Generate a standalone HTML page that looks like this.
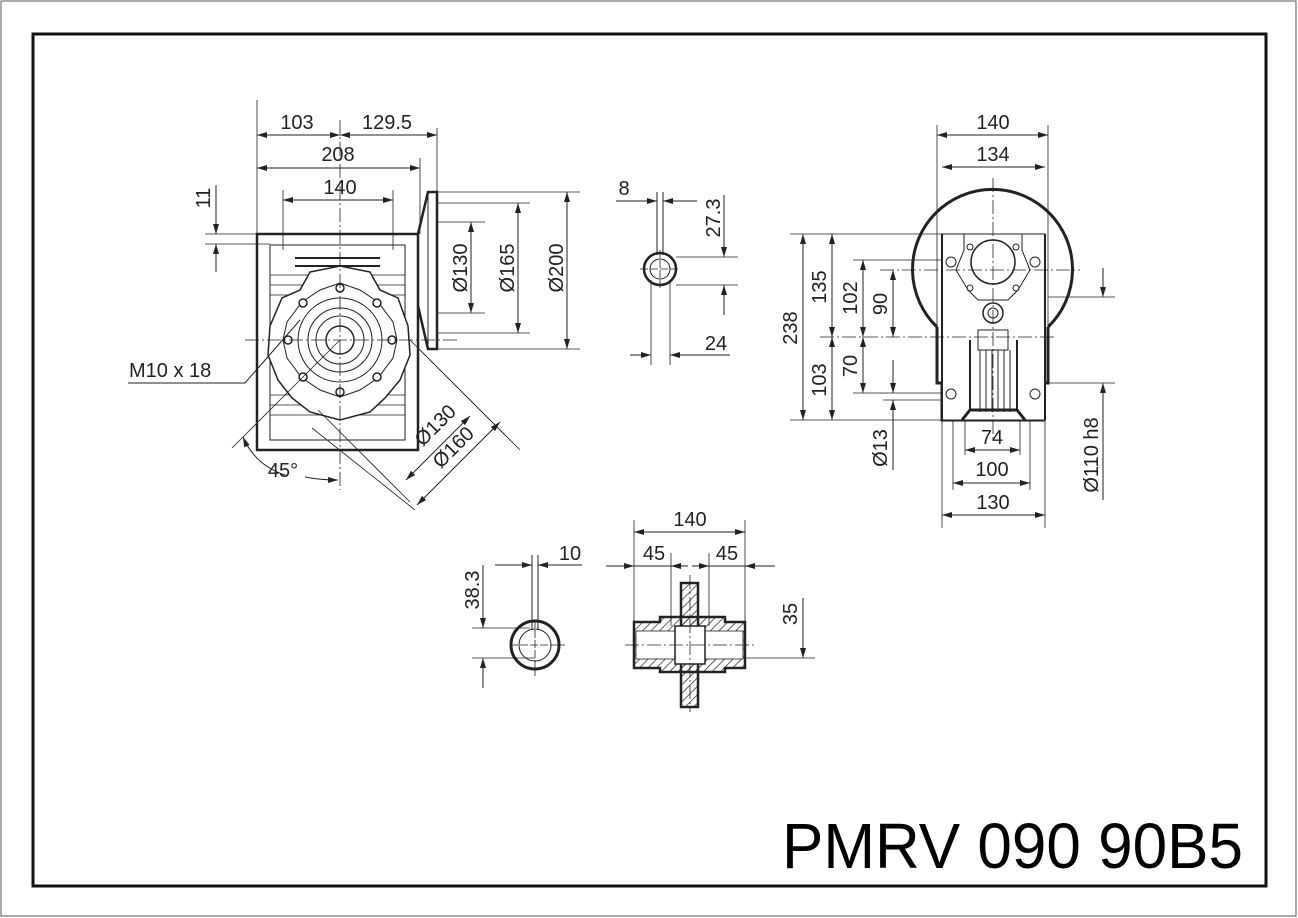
<!DOCTYPE html>
<html><head><meta charset="utf-8"><style>
html,body{margin:0;padding:0;background:#fff;}
svg{display:block;}
text{font-family:"Liberation Sans",sans-serif;fill:#222;}
</style></head><body>
<svg width="1298" height="918" viewBox="0 0 1298 918" xmlns="http://www.w3.org/2000/svg">
<defs>
<marker id="a" viewBox="0 0 10 6" refX="10" refY="3" markerWidth="10" markerHeight="6" orient="auto-start-reverse" markerUnits="userSpaceOnUse"><path d="M0,0L10,3L0,6z" fill="#222"/></marker>
<pattern id="h" width="6" height="6" patternUnits="userSpaceOnUse" patternTransform="rotate(45)"><line x1="0" y1="0" x2="0" y2="6" stroke="#333" stroke-width="1.5"/></pattern>
</defs>
<rect x="1" y="1" width="1295" height="915" fill="none" stroke="#555" stroke-width="1"/>
<rect x="33" y="34" width="1233" height="852" fill="none" stroke="#111" stroke-width="3"/>

<g stroke="#222" fill="none" stroke-width="1">
<!-- FRONT VIEW -->
<rect x="257" y="234" width="161" height="216" stroke-width="2.5"/>
<path d="M418,234 L428,192 L437,192 L437,349 L428,349 L418,306" stroke-width="2.5"/>
<line x1="428" y1="192" x2="428" y2="349"/>
<rect x="270" y="245" width="135" height="195"/>
<line x1="295" y1="258" x2="380" y2="258" stroke-width="2"/>
<line x1="295" y1="266" x2="380" y2="266" stroke-width="2"/>
<g stroke-width="0.8">
<line x1="270" y1="275" x2="405" y2="275"/><line x1="270" y1="285" x2="405" y2="285"/><line x1="270" y1="295" x2="405" y2="295"/>
<line x1="270" y1="395" x2="405" y2="395"/><line x1="270" y1="405" x2="405" y2="405"/><line x1="270" y1="415" x2="405" y2="415"/>
</g>
<path d="M340,266 L370,272 L380,290 L398,298 L408,326 L410,355 L400,380 L385,398 L370,412 L340,420 L310,412 L292,398 L278,380 L268,355 L270,326 L282,298 L300,290 L310,272 Z" fill="#fff" stroke-width="1.5"/>
<path d="M340,283 L360,290 L378,302 L393,322 L397,340 L393,358 L378,378 L360,390 L340,397 L320,390 L302,378 L287,358 L283,340 L287,322 L302,302 L320,290 Z"/>
<circle cx="340" cy="340" r="42"/><circle cx="340" cy="340" r="32"/><circle cx="340" cy="340" r="24"/><circle cx="340" cy="340" r="14" stroke-width="1.5"/>
<g fill="#fff" stroke-width="1.5">
<circle cx="340" cy="288" r="4"/><circle cx="340" cy="392" r="4"/><circle cx="288" cy="340" r="4"/><circle cx="392" cy="340" r="4"/>
<circle cx="303" cy="303" r="4"/><circle cx="377" cy="303" r="4"/><circle cx="303" cy="377" r="4"/><circle cx="377" cy="377" r="4"/>
</g>
<g stroke-dasharray="14,3,2,3" stroke-width="0.8">
<line x1="340" y1="120" x2="340" y2="490"/><line x1="245" y1="340" x2="460" y2="340"/>
</g>
<!-- front dims -->
<line x1="257" y1="100" x2="257" y2="234" stroke-width="0.8"/>
<line x1="437" y1="128" x2="437" y2="192" stroke-width="0.8"/>
<line x1="420" y1="158" x2="420" y2="234" stroke-width="0.8"/>
<line x1="283" y1="190" x2="283" y2="250" stroke-width="0.8"/><line x1="393" y1="190" x2="393" y2="250" stroke-width="0.8"/>
<line x1="257" y1="135" x2="340" y2="135" marker-start="url(#a)" marker-end="url(#a)"/>
<line x1="340" y1="135" x2="437" y2="135" marker-start="url(#a)" marker-end="url(#a)"/>
<line x1="257" y1="168" x2="420" y2="168" marker-start="url(#a)" marker-end="url(#a)"/>
<line x1="283" y1="200" x2="393" y2="200" marker-start="url(#a)" marker-end="url(#a)"/>
<line x1="205" y1="234" x2="257" y2="234" stroke-width="0.8"/><line x1="205" y1="244" x2="270" y2="244" stroke-width="0.8"/>
<line x1="216" y1="185" x2="216" y2="234" marker-end="url(#a)"/><line x1="216" y1="272" x2="216" y2="244" marker-end="url(#a)"/>
<line x1="437" y1="192" x2="580" y2="192" stroke-width="0.8"/><line x1="437" y1="349" x2="580" y2="349" stroke-width="0.8"/>
<line x1="437" y1="203" x2="530" y2="203" stroke-width="0.8"/><line x1="437" y1="333" x2="530" y2="333" stroke-width="0.8"/>
<line x1="437" y1="222" x2="485" y2="222" stroke-width="0.8"/><line x1="437" y1="313" x2="485" y2="313" stroke-width="0.8"/>
<line x1="471" y1="222" x2="471" y2="313" marker-start="url(#a)" marker-end="url(#a)"/>
<line x1="518" y1="203" x2="518" y2="333" marker-start="url(#a)" marker-end="url(#a)"/>
<line x1="567" y1="192" x2="567" y2="349" marker-start="url(#a)" marker-end="url(#a)"/>
<!-- diagonal dims -->
<line x1="410" y1="340" x2="505" y2="435" stroke-width="0.8"/>
<line x1="420" y1="350" x2="520" y2="450" stroke-width="0.8"/>
<line x1="318" y1="410" x2="410" y2="502" stroke-width="0.8"/>
<line x1="312" y1="428" x2="415" y2="510" stroke-width="0.8"/>
<line x1="406" y1="480" x2="470" y2="416" marker-start="url(#a)" marker-end="url(#a)"/>
<line x1="417" y1="505" x2="500" y2="422" marker-start="url(#a)" marker-end="url(#a)"/>
<line x1="340" y1="340" x2="232" y2="448" stroke-width="0.8"/>
<path d="M243,437 Q255,465 285,475" marker-start="url(#a)"/>
<path d="M305,477 Q320,480 338,480" marker-end="url(#a)"/>
<path d="M128,383 L245,383 L300,320"/>

<!-- SMALL SHAFT TOP -->
<circle cx="660" cy="269" r="16" stroke-width="2.5"/><circle cx="660" cy="269" r="10"/>
<line x1="657" y1="192" x2="657" y2="255"/><line x1="663" y1="192" x2="663" y2="255"/>
<line x1="616" y1="201" x2="657" y2="201" marker-end="url(#a)"/><line x1="697" y1="201" x2="663" y2="201" marker-end="url(#a)"/>
<line x1="640" y1="269" x2="680" y2="269" stroke-dasharray="8,2" stroke-width="0.8"/>
<line x1="660" y1="250" x2="660" y2="290" stroke-dasharray="8,2" stroke-width="0.8"/>
<line x1="676" y1="257" x2="738" y2="257" stroke-width="0.8"/><line x1="676" y1="285" x2="738" y2="285" stroke-width="0.8"/>
<line x1="724" y1="195" x2="724" y2="257" marker-end="url(#a)"/><line x1="724" y1="315" x2="724" y2="285" marker-end="url(#a)"/>
<line x1="651" y1="280" x2="651" y2="365" stroke-width="0.8"/><line x1="670" y1="280" x2="670" y2="365" stroke-width="0.8"/>
<line x1="630" y1="355" x2="651" y2="355" marker-end="url(#a)"/><line x1="730" y1="355" x2="670" y2="355" marker-end="url(#a)"/>

<!-- RIGHT VIEW -->
<path d="M937,327 A80,80 0 1 1 1048,327" stroke-width="3"/>
<path d="M937,327 L937,383 L942,383 L942,420 L1044,420 L1044,383 L1048,383 L1048,327" stroke-width="3"/>
<rect x="942" y="234" width="103" height="186" fill="#fff"/>
<line x1="942" y1="234" x2="942" y2="420" stroke-width="2"/><line x1="1045" y1="234" x2="1045" y2="420" stroke-width="2"/>
<path d="M964,234 L1022,234 L1022,250 L1030,270 L1018,290 L1008,300 L978,300 L968,290 L956,270 L964,250 Z"/>
<circle cx="993" cy="262" r="22" stroke-width="1.5"/>
<circle cx="951" cy="262" r="5"/><circle cx="1035" cy="262" r="5"/>
<circle cx="970" cy="247" r="3"/><circle cx="1016" cy="247" r="3"/><circle cx="970" cy="288" r="3"/><circle cx="1016" cy="288" r="3"/>
<circle cx="993" cy="313" r="10" stroke-width="1.5"/><circle cx="993" cy="313" r="5"/>
<rect x="978" y="330" width="30" height="20"/>
<line x1="970" y1="340" x2="970" y2="410" stroke-width="2"/><line x1="1017" y1="340" x2="1017" y2="410" stroke-width="2"/>
<g stroke-width="1"><line x1="980" y1="350" x2="980" y2="412"/><line x1="986" y1="350" x2="986" y2="412"/><line x1="992" y1="350" x2="992" y2="412"/><line x1="998" y1="350" x2="998" y2="412"/><line x1="1004" y1="350" x2="1004" y2="412"/><line x1="1010" y1="350" x2="1010" y2="412"/></g>
<path d="M962,420 L970,410 L1017,410 L1025,420" stroke-width="3"/>
<circle cx="951" cy="394" r="5"/><circle cx="1035" cy="394" r="5"/>
<g stroke-dasharray="14,3,2,3" stroke-width="0.8">
<line x1="993" y1="178" x2="993" y2="440"/><line x1="880" y1="270" x2="1080" y2="270"/><line x1="820" y1="337" x2="1055" y2="337"/>
</g>
<line x1="937" y1="125" x2="937" y2="327" stroke-width="0.8"/><line x1="1048" y1="125" x2="1048" y2="327" stroke-width="0.8"/>
<line x1="937" y1="135" x2="1048" y2="135" marker-start="url(#a)" marker-end="url(#a)"/>
<line x1="942" y1="167" x2="1045" y2="167" marker-start="url(#a)" marker-end="url(#a)"/>
<line x1="942" y1="420" x2="942" y2="528" stroke-width="0.8"/><line x1="1045" y1="420" x2="1045" y2="528" stroke-width="0.8"/>
<line x1="953" y1="420" x2="953" y2="490" stroke-width="0.8"/><line x1="1030" y1="420" x2="1030" y2="490" stroke-width="0.8"/>
<line x1="965" y1="420" x2="965" y2="455" stroke-width="0.8"/><line x1="1020" y1="420" x2="1020" y2="455" stroke-width="0.8"/>
<line x1="965" y1="450" x2="1020" y2="450" marker-start="url(#a)" marker-end="url(#a)"/>
<line x1="953" y1="483" x2="1030" y2="483" marker-start="url(#a)" marker-end="url(#a)"/>
<line x1="942" y1="515" x2="1045" y2="515" marker-start="url(#a)" marker-end="url(#a)"/>
<line x1="790" y1="234" x2="942" y2="234" stroke-width="0.8"/><line x1="790" y1="420" x2="942" y2="420" stroke-width="0.8"/>
<line x1="853" y1="260" x2="942" y2="260" stroke-width="0.8"/><line x1="853" y1="393" x2="942" y2="393" stroke-width="0.8"/>
<line x1="883" y1="400" x2="942" y2="400" stroke-width="0.8"/>
<line x1="803" y1="234" x2="803" y2="420" marker-start="url(#a)" marker-end="url(#a)"/>
<line x1="832" y1="234" x2="832" y2="337" marker-start="url(#a)" marker-end="url(#a)"/>
<line x1="832" y1="337" x2="832" y2="420" marker-start="url(#a)" marker-end="url(#a)"/>
<line x1="863" y1="260" x2="863" y2="337" marker-start="url(#a)" marker-end="url(#a)"/>
<line x1="863" y1="337" x2="863" y2="393" marker-start="url(#a)" marker-end="url(#a)"/>
<line x1="893" y1="270" x2="893" y2="337" marker-start="url(#a)" marker-end="url(#a)"/>
<line x1="893" y1="360" x2="893" y2="393" marker-end="url(#a)"/><line x1="893" y1="470" x2="893" y2="400" marker-end="url(#a)"/>
<line x1="1048" y1="297" x2="1115" y2="297" stroke-width="0.8"/><line x1="1048" y1="383" x2="1115" y2="383" stroke-width="0.8"/>
<line x1="1103" y1="268" x2="1103" y2="297" marker-end="url(#a)"/><line x1="1103" y1="500" x2="1103" y2="383" marker-end="url(#a)"/>

<!-- BOTTOM LEFT SHAFT -->
<circle cx="535" cy="645" r="24" stroke-width="3"/><circle cx="535" cy="645" r="16"/>
<line x1="532" y1="555" x2="532" y2="630"/><line x1="538" y1="555" x2="538" y2="630"/>
<line x1="495" y1="565" x2="532" y2="565" marker-end="url(#a)"/><line x1="582" y1="565" x2="538" y2="565" marker-end="url(#a)"/>
<line x1="510" y1="645" x2="565" y2="645" stroke-dasharray="8,2" stroke-width="0.8"/>
<line x1="535" y1="620" x2="535" y2="676" stroke-dasharray="8,2" stroke-width="0.8"/>
<line x1="472" y1="628" x2="530" y2="628" stroke-width="0.8"/><line x1="472" y1="658" x2="535" y2="658" stroke-width="0.8"/>
<line x1="483" y1="565" x2="483" y2="628" marker-end="url(#a)"/><line x1="483" y1="688" x2="483" y2="658" marker-end="url(#a)"/>

<!-- HOLLOW SHAFT -->
<rect x="681" y="583" width="17" height="124" fill="url(#h)" stroke-width="2.5"/>
<path d="M634,622 L660,622 L660,617 L725,617 L725,622 L745,622 L745,668 L725,668 L725,672 L660,672 L660,668 L634,668 Z" fill="url(#h)" stroke-width="2.5"/>
<rect x="636" y="631" width="107" height="28" fill="#fff" stroke-width="0.8"/>
<rect x="675" y="626" width="30" height="38" fill="#fff" stroke-width="1.5"/>
<line x1="625" y1="645" x2="755" y2="645" stroke-dasharray="14,3,2,3" stroke-width="0.8"/>
<line x1="690" y1="575" x2="690" y2="712" stroke-dasharray="14,3,2,3" stroke-width="0.8"/>
<line x1="634" y1="520" x2="634" y2="622" stroke-width="0.8"/><line x1="745" y1="520" x2="745" y2="622" stroke-width="0.8"/>
<line x1="671" y1="553" x2="671" y2="626" stroke-width="0.8"/><line x1="709" y1="553" x2="709" y2="626" stroke-width="0.8"/>
<line x1="634" y1="532" x2="745" y2="532" marker-start="url(#a)" marker-end="url(#a)"/>
<line x1="606" y1="566" x2="634" y2="566" marker-end="url(#a)"/>
<line x1="634" y1="566" x2="671" y2="566"/>
<line x1="671" y1="566" x2="688" y2="566" marker-start="url(#a)"/>
<line x1="692" y1="566" x2="709" y2="566" marker-end="url(#a)"/>
<line x1="709" y1="566" x2="745" y2="566"/>
<line x1="775" y1="566" x2="745" y2="566" marker-end="url(#a)"/>
<line x1="745" y1="658" x2="815" y2="658" stroke-width="0.8"/>
<line x1="803" y1="598" x2="803" y2="658" marker-end="url(#a)"/>
</g>

<g font-size="20">
<text x="297" y="129" text-anchor="middle">103</text>
<text x="387" y="129" text-anchor="middle">129.5</text>
<text x="338" y="161" text-anchor="middle">208</text>
<text x="340" y="194" text-anchor="middle">140</text>
<text transform="translate(210,198) rotate(-90)" text-anchor="middle">11</text>
<text transform="translate(467,268) rotate(-90)" text-anchor="middle">Ø130</text>
<text transform="translate(514,268) rotate(-90)" text-anchor="middle">Ø165</text>
<text transform="translate(563,268) rotate(-90)" text-anchor="middle">Ø200</text>
<text transform="translate(440,430) rotate(-45)" text-anchor="middle">Ø130</text>
<text transform="translate(458,452) rotate(-45)" text-anchor="middle">Ø160</text>
<text x="129" y="377">M10 x 18</text>
<text x="283" y="477" text-anchor="middle">45°</text>
<text x="624" y="195" text-anchor="middle">8</text>
<text transform="translate(720,218) rotate(-90)" text-anchor="middle">27.3</text>
<text x="716" y="350" text-anchor="middle">24</text>
<text x="993" y="129" text-anchor="middle">140</text>
<text x="993" y="161" text-anchor="middle">134</text>
<text transform="translate(797,328) rotate(-90)" text-anchor="middle">238</text>
<text transform="translate(826,287) rotate(-90)" text-anchor="middle">135</text>
<text transform="translate(826,380) rotate(-90)" text-anchor="middle">103</text>
<text transform="translate(857,298) rotate(-90)" text-anchor="middle">102</text>
<text transform="translate(857,366) rotate(-90)" text-anchor="middle">70</text>
<text transform="translate(887,304) rotate(-90)" text-anchor="middle">90</text>
<text transform="translate(887,448) rotate(-90)" text-anchor="middle">Ø13</text>
<text transform="translate(1098,455) rotate(-90)" text-anchor="middle">Ø110 h8</text>
<text x="992" y="444" text-anchor="middle">74</text>
<text x="992" y="476" text-anchor="middle">100</text>
<text x="993" y="509" text-anchor="middle">130</text>
<text x="570" y="560" text-anchor="middle">10</text>
<text transform="translate(479,590) rotate(-90)" text-anchor="middle">38.3</text>
<text x="690" y="526" text-anchor="middle">140</text>
<text x="654" y="560" text-anchor="middle">45</text>
<text x="727" y="560" text-anchor="middle">45</text>
<text transform="translate(797,614) rotate(-90)" text-anchor="middle">35</text>
</g>
<text x="782" y="868" font-size="64" textLength="461" lengthAdjust="spacingAndGlyphs" style="fill:#000">PMRV 090 90B5</text>
</svg>
</body></html>
